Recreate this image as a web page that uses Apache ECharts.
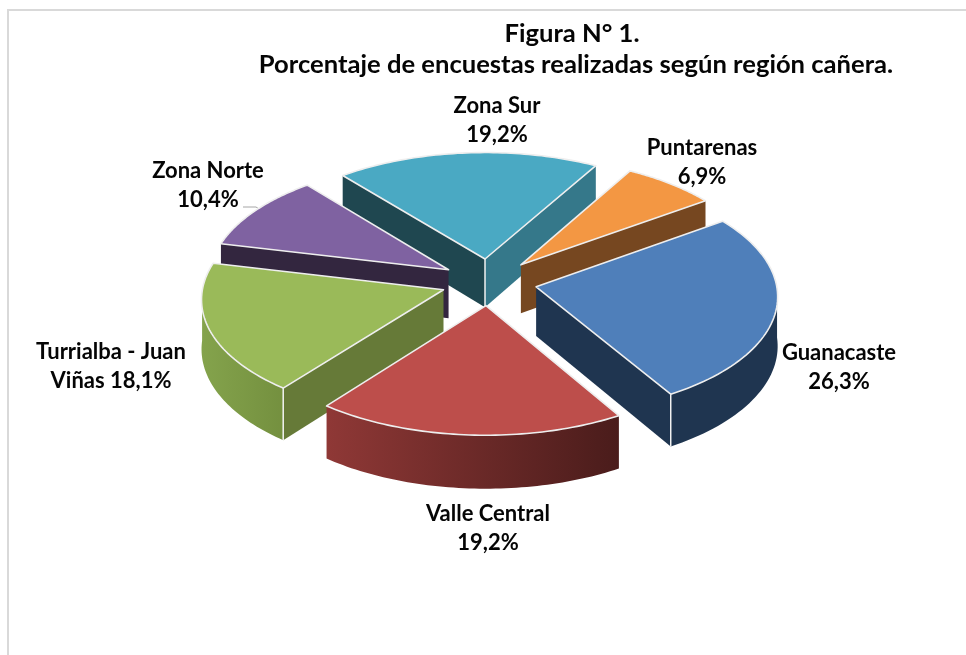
<!DOCTYPE html>
<html>
<head>
<meta charset="utf-8">
<style>
  html, body { margin: 0; padding: 0; background: #fff; }
  #chart { width: 966px; height: 655px; }
</style>
<script src="https://cdn.jsdelivr.net/npm/echarts@6/dist/echarts.min.js"></script>
</head>
<body>
<div id="chart"></div>
<script>
// valores
var categories = ['Guanacaste', 'Valle Central', 'Turrialba - Juan\nViñas', 'Zona Norte', 'Zona Sur', 'Puntarenas'];
var percentages = [26.3, 19.2, 18.1, 10.4, 19.2, 6.9];
var titleLines = ['Figura N° 1.', 'Porcentaje de encuestas realizadas según región cañera.'];

// colores de cada rebanada
var topColors = ['#4f7fba', '#bd4e4b', '#9aba59', '#7f62a1', '#4aa9c3', '#f39743'];
var startCutColors = ['#1f3550', '#1f3550', '#667a38', '#33263f', '#1f4750', '#764720'];
var endCutColors = ['#1f3550', '#4a1c1b', '#667a38', '#33263f', '#35788a', '#764720'];
var rimColors = [
    ['#1f3550', '#1f3550'],
    ['#8f3836', '#4a1c1b'],
    ['#84a34c', '#74903f'],
    ['#33263f', '#33263f'],
    ['#35788a', '#35788a'],
    ['#764720', '#764720']
];
// centro de cada etiqueta en pixeles
var labelCenters = [[839, 367], [488, 528], [111, 366], [208, 185], [497, 120], [702, 162]];
var titleCenters = [567, 571];
var titleTops = [16, 47];

// geometria del pastel
var cx = 489, cy = 282, radiusX = 240, radiusY = 117;
var explode = 0.2, perspective = 0.07, depth = 49, startAngle = 54.5;
var fontName = 'Lato, Carlito, sans-serif';

var total = percentages.reduce(function (a, b) { return a + b; }, 0);
var rad = Math.PI / 180;

function sliceAngles(index) {
    var from = startAngle;
    for (var i = 0; i < index; i++) {
        from += percentages[i] / total * 360;
    }
    return [from, from + percentages[index] / total * 360];
}

// pasa del disco (X, Y) a la pantalla, con algo de perspectiva
function project(X, Y, low) {
    var s = 1 / (1 - perspective * Y);
    return [cx + X * radiusX * s, cy + Y * radiusY * s + (low ? depth * s : 0)];
}

function onDisc(angle, r, off) {
    return [off[0] + r * Math.sin(angle * rad), off[1] - r * Math.cos(angle * rad)];
}

function polygon(points, fill) {
    return { type: 'polygon', shape: { points: points }, style: { fill: fill }, silent: true };
}

function edge(points, width) {
    return {
        type: 'polyline',
        shape: { points: points },
        style: { fill: null, stroke: '#f2f2f2', lineWidth: width },
        silent: true
    };
}

function cutFace(off, angle, fill) {
    var a = onDisc(angle, 0, off), b = onDisc(angle, 1, off);
    return polygon([project(a[0], a[1]), project(b[0], b[1]), project(b[0], b[1], true), project(a[0], a[1], true)], fill);
}

function renderSlice(params, api) {
    var index = api.value(0);
    var range = sliceAngles(index);
    var mid = (range[0] + range[1]) / 2;
    var off = [explode * Math.sin(mid * rad), -explode * Math.cos(mid * rad)];
    var children = [];
    var arcTop = [], rimTop = [], rimLow = [];
    var a, p;
    for (a = range[0]; a <= range[1] + 0.001; a += (range[1] - range[0]) / 60) {
        p = onDisc(a, 1, off);
        arcTop.push(project(p[0], p[1]));
        if (Math.cos(a * rad) < 0) {
            rimTop.push(project(p[0], p[1]));
            rimLow.push(project(p[0], p[1], true));
        }
    }
    var apex = project(off[0], off[1]);
    var apexLow = project(off[0], off[1], true);
    var startVisible = Math.sin(range[0] * rad) < 0;
    var endVisible = Math.sin(range[1] * rad) > 0;

    if (startVisible) {
        children.push(cutFace(off, range[0], startCutColors[index]));
    }
    if (endVisible) {
        children.push(cutFace(off, range[1], endCutColors[index]));
    }
    if (rimTop.length > 1) {
        children.push(polygon(rimTop.concat(rimLow.slice().reverse()), new echarts.graphic.LinearGradient(0, 0, 1, 0, [
            { offset: 0, color: rimColors[index][0] },
            { offset: 1, color: rimColors[index][1] }
        ])));
    }
    // aristas verticales entre dos caras visibles
    if (startVisible && endVisible) {
        children.push(edge([apex, apexLow], 1.5));
    }
    if (startVisible && rimTop.length > 1 && Math.cos(range[0] * rad) < 0) {
        children.push(edge([rimTop[0], rimLow[0]], 1.5));
    }
    if (endVisible && rimTop.length > 1 && Math.cos(range[1] * rad) < 0) {
        children.push(edge([rimTop[rimTop.length - 1], rimLow[rimLow.length - 1]], 1.5));
    }

    children.push({
        type: 'polygon',
        shape: { points: [apex].concat(arcTop) },
        style: { fill: topColors[index], stroke: '#eeeeee', lineWidth: 1.6, lineJoin: 'round' },
        silent: true
    });

    return { type: 'group', children: children };
}

function labelText(name, value) {
    var txt = value.toFixed(1).replace('.', ',') + '%';
    return name + (name.indexOf('\n') >= 0 ? ' ' : '\n') + txt;
}

function renderLabel(params, api) {
    var index = api.value(0);
    var center = labelCenters[index];
    return {
        type: 'text',
        silent: true,
        style: {
            x: center[0],
            y: center[1],
            text: labelText(categories[index], api.value(1)),
            align: 'center',
            verticalAlign: 'middle',
            fontFamily: fontName,
            fontWeight: 'bold',
            fontSize: 22,
            lineHeight: 29,
            fill: '#050505'
        }
    };
}

// de atras hacia adelante
var drawOrder = categories.map(function (c, i) { return i; }).sort(function (p, q) {
    var rp = sliceAngles(p), rq = sliceAngles(q);
    return Math.cos((rq[0] + rq[1]) / 2 * rad) - Math.cos((rp[0] + rp[1]) / 2 * rad);
});

var chart = echarts.init(document.getElementById('chart'), null, { renderer: 'canvas' });

chart.setOption({
    animation: false,
    backgroundColor: '#fff',
    title: titleLines.map(function (line, i) {
        return {
            text: line,
            left: titleCenters[i],
            top: titleTops[i],
            textAlign: 'center',
            textStyle: {
                fontFamily: fontName,
                fontWeight: 'bold',
                fontSize: 25.6,
                color: '#050505'
            }
        };
    }),
    graphic: [
        // marco gris del grafico y guia de Zona Norte
        { type: 'polyline', silent: true, shape: { points: [[8, 655], [8, 10], [966, 10]] }, style: { fill: null, stroke: '#d9d9d9', lineWidth: 2 } },
        { type: 'polyline', silent: true, shape: { points: [[243, 207], [256, 207], [259, 209]] }, style: { fill: null, stroke: '#a6a6a6', lineWidth: 1 } }
    ],
    series: [
        {
            type: 'custom',
            coordinateSystem: 'none',
            renderItem: renderSlice,
            data: drawOrder.map(function (i) { return [i, percentages[i]]; })
        },
        {
            type: 'custom',
            coordinateSystem: 'none',
            renderItem: renderLabel,
            data: categories.map(function (c, i) { return [i, percentages[i]]; })
        }
    ]
});
</script>
</body>
</html>
